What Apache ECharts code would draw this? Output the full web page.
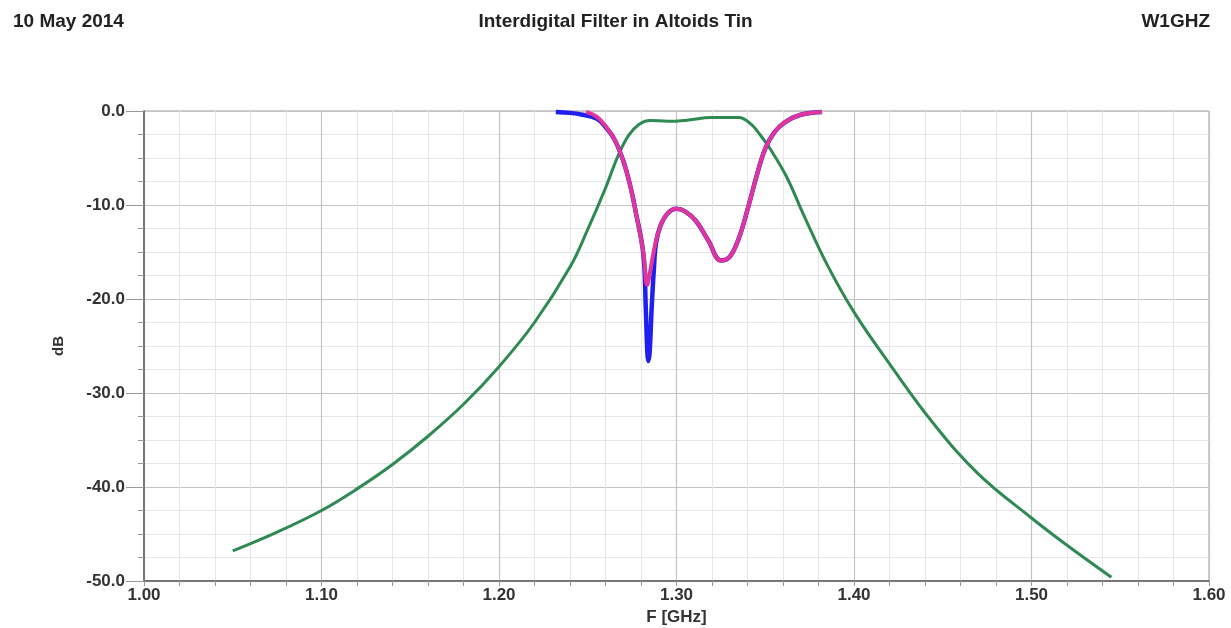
<!DOCTYPE html>
<html>
<head>
<meta charset="utf-8">
<script src="https://cdn.jsdelivr.net/npm/echarts@6/dist/echarts.min.js"></script>
<style>
  html, body { margin: 0; padding: 0; background: #fff; }
  #chart { width: 1231px; height: 628px; }
</style>
</head>
<body>
<div id="chart"></div>
<script>
// S21 (green)
const s21Freq = [1.050, 1.075, 1.100, 1.120, 1.140, 1.160, 1.180, 1.200, 1.220, 1.240, 1.250, 1.260, 1.267, 1.273, 1.279, 1.285, 1.295, 1.305, 1.320, 1.335, 1.342, 1.347, 1.353, 1.362, 1.372, 1.385, 1.400, 1.420, 1.445, 1.470, 1.500, 1.520, 1.545]
const s21dB = [-46.8, -44.8, -42.5, -40.2, -37.6, -34.6, -31.2, -27.2, -22.5, -16.6, -12.6, -8.2, -4.8, -2.6, -1.4, -1.0, -1.1, -1.0, -0.7, -0.7, -1.4, -2.5, -4.1, -7.0, -11.2, -16.4, -21.4, -26.9, -33.3, -38.6, -43.3, -46.2, -49.6]

// S11 (blue)
const s11Freq = [1.232, 1.240, 1.247, 1.255, 1.260, 1.265, 1.270, 1.274, 1.277, 1.2813, 1.2827, 1.2836, 1.2842, 1.2849, 1.2860, 1.2872, 1.2885, 1.291, 1.295, 1.300, 1.305, 1.311, 1.318, 1.325, 1.330, 1.335, 1.340, 1.345, 1.350, 1.355, 1.361, 1.370, 1.382]
const s11dB = [-0.1, -0.2, -0.4, -0.8, -1.7, -3.0, -5.3, -8.0, -10.7, -15.2, -21.0, -25.8, -26.6, -25.6, -21.0, -17.0, -14.0, -12.2, -10.9, -10.4, -10.7, -11.7, -13.8, -15.9, -15.5, -13.6, -10.5, -7.0, -4.0, -2.3, -1.2, -0.4, -0.1]

// S22 (magenta)
const s22Freq = [1.249, 1.255, 1.260, 1.265, 1.270, 1.274, 1.277, 1.2813, 1.2835, 1.2852, 1.288, 1.291, 1.295, 1.300, 1.305, 1.311, 1.318, 1.325, 1.330, 1.335, 1.340, 1.345, 1.350, 1.355, 1.361, 1.370, 1.382]
const s22dB = [-0.1, -0.6, -1.6, -3.0, -5.3, -8.0, -10.7, -15.0, -18.5, -17.0, -14.2, -12.2, -10.9, -10.4, -10.7, -11.7, -13.8, -15.9, -15.5, -13.6, -10.5, -7.0, -4.0, -2.3, -1.2, -0.4, -0.1]

const xTicks = ['1.00', '1.10', '1.20', '1.30', '1.40', '1.50', '1.60']
const yTicks = ['0.0', '-10.0', '-20.0', '-30.0', '-40.0', '-50.0']

const pairs = (xs, ys) => xs.map((x, i) => [x, ys[i]])

const chart = echarts.init(document.getElementById('chart'))
const labelFont = { color: '#333', fontSize: 17, fontWeight: 'bold', fontFamily: 'Liberation Sans, Arial, sans-serif' }
const headFont = { ...labelFont, fontSize: 19, color: '#222' }

const option = {
  backgroundColor: '#fff',
  animation: false,
  title: [
    { text: '10 May 2014', left: 8, top: 7, textStyle: headFont },
    { text: 'Interdigital Filter in Altoids Tin', left: 'center', top: 7, textStyle: headFont },
    { text: 'W1GHZ', right: 16, top: 7, textStyle: headFont }
  ],
  grid: {
    left: 144, right: 22, top: 111, bottom: 47,
    outerBoundsMode: 'none', containLabel: false,
    show: true, borderColor: '#9a9a9a', borderWidth: 1
  },
  xAxis: {
    type: 'value', min: 1.0, max: 1.6, interval: 0.1,
    name: 'F [GHz]', nameLocation: 'middle', nameGap: 26,
    nameTextStyle: labelFont,
    axisLine: { show: true, onZero: false, lineStyle: { color: '#777', width: 2 } },
    axisTick: { show: true, length: 5, lineStyle: { color: '#999' } },
    minorTick: { show: true, splitNumber: 5, length: 5, lineStyle: { color: '#999' } },
    axisLabel: { ...labelFont, margin: 6, formatter: (v) => xTicks[Math.round((v - 1.0) * 10)] },
    splitLine: { show: true, lineStyle: { color: '#c4c4c4', width: 1.2 } },
    minorSplitLine: { show: true, lineStyle: { color: '#e6e6e6', width: 1 } }
  },
  yAxis: {
    type: 'value', min: -50, max: 0, interval: 10,
    name: 'dB', nameLocation: 'middle', nameGap: 78, nameRotate: 90,
    nameTextStyle: { ...labelFont, fontSize: 15 },
    axisLine: { show: true, onZero: false, lineStyle: { color: '#777', width: 2 } },
    axisTick: { show: true, length: 18, lineStyle: { color: '#999' } },
    minorTick: { show: true, splitNumber: 4, length: 6, lineStyle: { color: '#999' } },
    axisLabel: { ...labelFont, margin: 19, formatter: (v) => yTicks[Math.round(-v / 10)] },
    splitLine: { show: true, lineStyle: { color: '#c4c4c4', width: 1.2 } },
    minorSplitLine: { show: true, lineStyle: { color: '#e6e6e6', width: 1 } }
  },
  series: [
    {
      name: 'S21', type: 'line', showSymbol: false, smooth: 0.4,
      lineStyle: { color: '#2e8a52', width: 3 },
      data: pairs(s21Freq, s21dB)
    },
    {
      name: 'S11', type: 'line', showSymbol: false, smooth: 0.4,
      lineStyle: { color: '#1f1ff0', width: 4.5 },
      data: pairs(s11Freq, s11dB)
    },
    {
      name: 'S22', type: 'line', showSymbol: false, smooth: 0.4,
      lineStyle: { color: '#e0369c', width: 4 },
      data: pairs(s22Freq, s22dB)
    }
  ]
}

chart.setOption(option)
</script>
</body>
</html>
